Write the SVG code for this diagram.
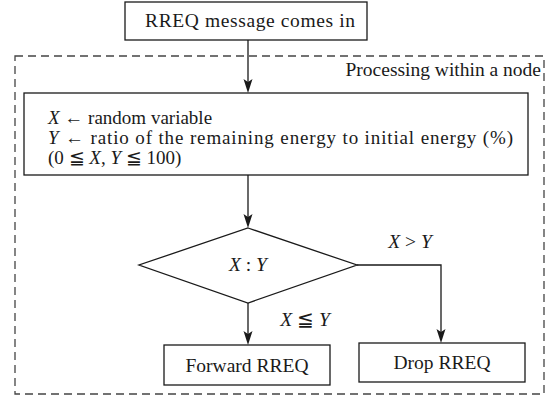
<svg xmlns="http://www.w3.org/2000/svg" width="557" height="400" viewBox="0 0 557 400">
<style>
text{font-family:"Liberation Serif","Times New Roman",serif;font-size:19.5px;fill:#1a1a1a}
.i{font-style:italic}
.s{font-size:19px}
.box{fill:#fff;stroke:#1a1a1a;stroke-width:1.3}
.ln{fill:none;stroke:#1a1a1a;stroke-width:1.3}
.ah{fill:#1a1a1a}
.dash{fill:none;stroke:#444;stroke-width:1.3;stroke-dasharray:8,5}
</style>
<rect x="0" y="0" width="557" height="400" fill="#fff"/>
<g id="container">
<rect class="dash" x="15" y="56" width="529" height="338"/>
<text x="541" y="76" text-anchor="end">Processing within a node</text>
</g>
<g id="connectors">
<line class="ln" x1="248" y1="40" x2="248" y2="88"/>
<line class="ln" x1="248" y1="175" x2="248" y2="222"/>
<polyline class="ln" points="357,265 441,265 441,337"/>
<line class="ln" x1="248" y1="303" x2="248" y2="339"/>
<path class="ah" d="M243.5,79 L248,82 L252.5,79 L248,93 Z"/>
<path class="ah" d="M243.5,214 L248,217 L252.5,214 L248,228 Z"/>
<path class="ah" d="M436.5,329 L441,332 L445.5,329 L441,343 Z"/>
<path class="ah" d="M243.5,331 L248,334 L252.5,331 L248,345 Z"/>
<text x="410" y="248" text-anchor="middle"><tspan class="i">X</tspan> &gt; <tspan class="i">Y</tspan></text>
<text x="305" y="326" text-anchor="middle"><tspan class="i">X</tspan> ≦ <tspan class="i">Y</tspan></text>
</g>
<g id="start">
<rect class="box" x="125" y="2" width="242" height="38"/>
<text x="250" y="27" text-anchor="middle" textLength="210" lengthAdjust="spacing">RREQ message comes in</text>
</g>
<g id="process">
<rect class="box" x="24" y="93" width="504" height="82"/>
<text class="s" x="48" y="124"><tspan class="i">X</tspan> ←  random variable</text>
<text class="s" x="48" y="144" textLength="465" lengthAdjust="spacing"><tspan class="i">Y</tspan> ←  ratio of the remaining energy to initial energy (%)</text>
<text class="s" x="48" y="164">(0 ≦ <tspan class="i">X</tspan>, <tspan class="i">Y</tspan> ≦ 100)</text>
</g>
<g id="decision">
<polygon class="box" points="248,228 357,265 248,303 139,265"/>
<text x="248" y="271" text-anchor="middle"><tspan class="i">X</tspan> : <tspan class="i">Y</tspan></text>
</g>
<g id="forward">
<rect class="box" x="164" y="345" width="166" height="40"/>
<text x="247" y="372" text-anchor="middle">Forward RREQ</text>
</g>
<g id="drop">
<rect class="box" x="359" y="343" width="166" height="39"/>
<text x="442" y="369" text-anchor="middle">Drop RREQ</text>
</g>
</svg>
